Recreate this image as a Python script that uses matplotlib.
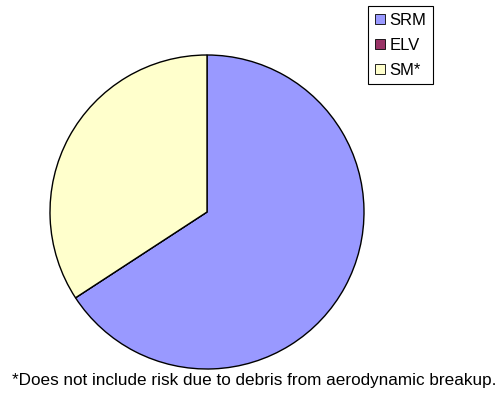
import matplotlib.pyplot as plt
from matplotlib.patches import Patch

plt.rcParams['font.family'] = ['Liberation Sans', 'DejaVu Sans']

labels = ['SRM', 'ELV', 'SM*']
shares = [65.8, 0.0, 34.2]
colors = ['#9999FF', '#993366', '#FFFFCC']
note = '*Does not include risk due to debris from aerodynamic breakup.'

fig = plt.figure(figsize=(5.01, 3.94), dpi=100)
ax = fig.add_axes([50 / 501, 25 / 394, 314 / 501, 314 / 394])

ax.pie(shares, colors=colors, startangle=90, counterclock=False,
       wedgeprops=dict(edgecolor='black', linewidth=1.0))
ax.set_xlim(-1.0, 1.0)
ax.set_ylim(-1.0, 1.0)
ax.set_aspect('equal')

handles = [Patch(facecolor=c, edgecolor='black', linewidth=0.6) for c in colors]
leg = fig.legend(handles, labels, loc='upper left',
                 bbox_to_anchor=(368 / 501, 1 - 6 / 394),
                 fontsize=12, handlelength=0.6, handleheight=0.6,
                 handletextpad=0.3, labelspacing=0.6, borderpad=0.4,
                 borderaxespad=0, fancybox=False, framealpha=1)
leg.get_frame().set_edgecolor('black')
leg.get_frame().set_linewidth(0.8)

fig.text(254 / 501, 1 - 381 / 394, note, ha='center', va='center', fontsize=12.3)

fig.savefig('out.png', dpi=100)
